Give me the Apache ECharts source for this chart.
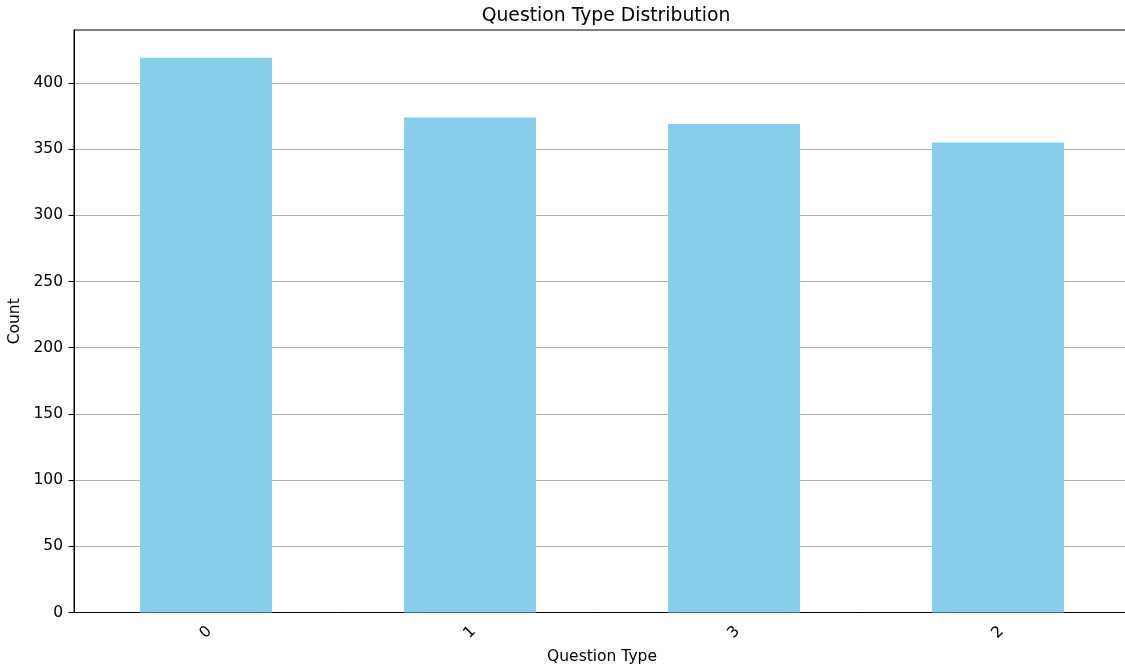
<!DOCTYPE html>
<html>
<head>
<meta charset="utf-8">
<script src="https://cdn.jsdelivr.net/npm/echarts@6/dist/echarts.min.js"></script>
<style>html,body{margin:0;padding:0;background:#fff}#c{width:1125px;height:665px}</style>
</head>
<body>
<div id="c"></div>
<script>
const categories = ['0', '1', '3', '2'];
const counts = [419, 374, 369, 355];
const yTicks = [0, 50, 100, 150, 200, 250, 300, 350, 400];
const yMax = 440;

const font = 'DejaVu Sans';
const chart = echarts.init(document.getElementById('c'));
chart.setOption({
  animation: false,
  title: {
    text: 'Question Type Distribution',
    left: 601, top: 2, textAlign: 'center',
    textStyle: { fontFamily: font, fontSize: 18.8, fontWeight: 'normal', color: '#000' }
  },
  grid: {
    left: 74, right: -5, top: 30, bottom: 52.5,
    containLabel: false, outerBoundsMode: 'none',
    show: true, borderColor: '#000', borderWidth: 1, backgroundColor: 'transparent'
  },
  xAxis: {
    type: 'category',
    data: categories,
    name: 'Question Type',
    nameLocation: 'middle',
    nameGap: 34,
    nameTextStyle: { fontFamily: font, fontSize: 15.5, color: '#000' },
    axisLine: { lineStyle: { color: '#000', width: 1 } },
    axisTick: { alignWithLabel: true, length: 5.5, lineStyle: { color: '#000' } },
    axisLabel: { rotate: 45, align: 'center', verticalAlign: 'middle', margin: 20, fontFamily: font, fontSize: 15.5, color: '#000' },
    splitLine: { show: false }
  },
  yAxis: {
    type: 'value',
    min: 0, max: yMax, interval: 50,
    name: 'Count',
    nameLocation: 'middle',
    nameGap: 46,
    nameTextStyle: { fontFamily: font, fontSize: 15.5, color: '#000' },
    axisLine: { show: true, lineStyle: { color: '#000', width: 1 } },
    axisTick: { show: true, length: 5.5, lineStyle: { color: '#000' }, customValues: yTicks },
    axisLabel: { fontFamily: font, fontSize: 15.5, color: '#000', margin: 11, customValues: yTicks },
    splitLine: { show: true, lineStyle: { color: '#b0b0b0', width: 1 } }
  },
  series: [{
    type: 'bar',
    data: counts,
    barCategoryGap: '50%',
    itemStyle: { color: '#87CEEB' },
    z: 1
  }]
});
</script>
</body>
</html>
